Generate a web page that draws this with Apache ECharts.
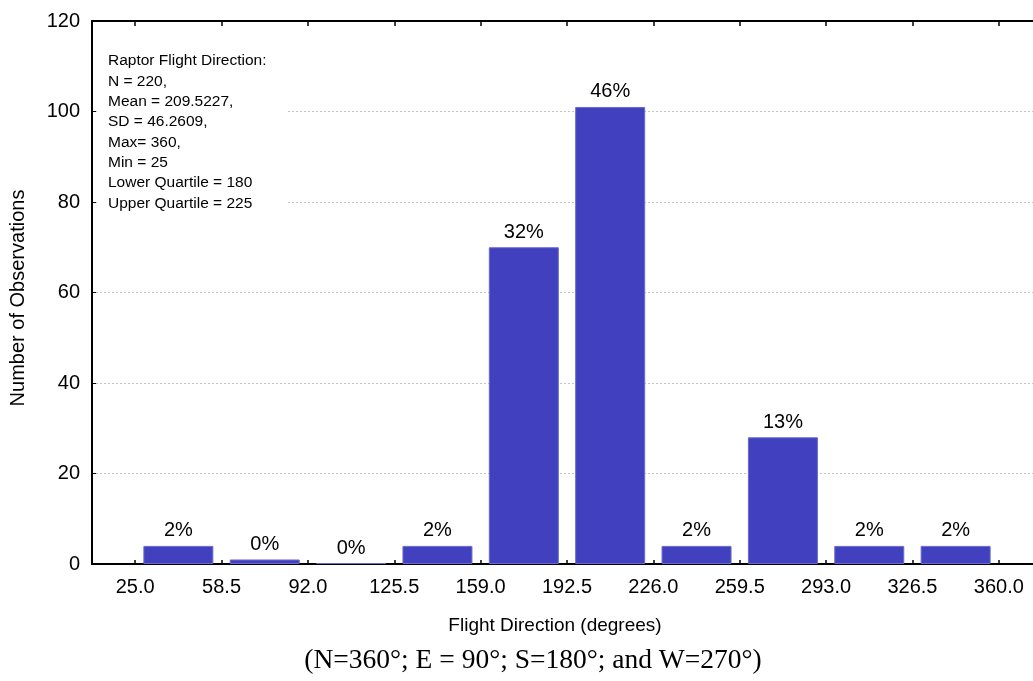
<!DOCTYPE html>
<html>
<head>
<meta charset="utf-8">
<script src="https://cdn.jsdelivr.net/npm/echarts@6/dist/echarts.min.js"></script>
<style>
  html, body { margin: 0; padding: 0; background: #fff; overflow: hidden; }
  /* the plot runs past the right edge of the page, so the chart box is wider than the window */
  #chart { width: 1042px; height: 681px; }
</style>
</head>
<body>
<div id="chart"></div>
<script>
// Histogram bin edges (degrees) and the number of observations in each bin
const binEdges = [25.0, 58.5, 92.0, 125.5, 159.0, 192.5, 226.0, 259.5, 293.0, 326.5, 360.0];
const counts = [4, 1, 0, 4, 70, 101, 4, 28, 4, 4];
const yTicks = [0, 20, 40, 60, 80, 100, 120];
const statsLines = [
  'Raptor Flight Direction:',
  'N = 220,',
  'Mean = 209.5227,',
  'SD = 46.2609,',
  'Max= 360,',
  'Min = 25',
  'Lower Quartile = 180',
  'Upper Quartile = 225'
];
const xTitle = 'Flight Direction (degrees)';
const xSubtitle = '(N=360\u00b0; E = 90\u00b0; S=180\u00b0; and W=270\u00b0)';
const yTitle = 'Number of Observations';

const total = counts.reduce((a, b) => a + b, 0);
const binWidth = binEdges[1] - binEdges[0];
const barData = counts.map((c, i) => [(binEdges[i] + binEdges[i + 1]) / 2, c]);

const font = 'Arial, "Liberation Sans", Helvetica, sans-serif';
const axisLine = { show: true, lineStyle: { color: '#000', width: 2 } };

const chart = echarts.init(document.getElementById('chart'), null, { renderer: 'canvas' });

chart.setOption({
  backgroundColor: '#fff',
  animation: false,
  grid: { left: 92, top: 21, bottom: 117, right: 0, containLabel: false },
  xAxis: [
    {
      type: 'value',
      position: 'bottom',
      min: binEdges[0] - binWidth / 2,
      max: binEdges[binEdges.length - 1] + binWidth / 2,
      axisLine: axisLine,
      axisTick: { show: true, inside: true, length: 4, customValues: binEdges,
                  lineStyle: { color: '#000', width: 1.5 } },
      axisLabel: { customValues: binEdges, formatter: v => v.toFixed(1),
                   fontSize: 20, fontFamily: font, color: '#000', margin: 13 },
      splitLine: { show: false }
    },
    {
      type: 'value',
      position: 'top',
      min: binEdges[0] - binWidth / 2,
      max: binEdges[binEdges.length - 1] + binWidth / 2,
      axisLine: axisLine,
      axisTick: { show: true, inside: true, length: 5, customValues: binEdges,
                  lineStyle: { color: '#000', width: 1.5 } },
      axisLabel: { show: false },
      splitLine: { show: false }
    }
  ],
  yAxis: {
    type: 'value',
    min: yTicks[0],
    max: yTicks[yTicks.length - 1],
    interval: yTicks[1] - yTicks[0],
    axisLine: axisLine,
    axisTick: { show: true, inside: true, length: 4, lineStyle: { color: '#000', width: 1 } },
    axisLabel: { fontSize: 20, fontFamily: font, color: '#000', margin: 12 },
    splitLine: { show: true, lineStyle: { color: '#c4c4c4', width: 1, type: [2, 2] } }
  },
  series: [{
    type: 'bar',
    xAxisIndex: 0,
    data: barData,
    barWidth: 70,
    barMinHeight: 1,
    itemStyle: { color: '#4141bf', borderColor: '#6a6acd', borderWidth: 1 },
    label: {
      show: true,
      position: 'top',
      distance: 5,
      fontSize: 20,
      fontFamily: font,
      color: '#000',
      formatter: p => Math.round(p.value[1] / total * 100) + '%'
    },
    z: 3
  }],
  graphic: [
    {
      type: 'rect',
      shape: { x: 97, y: 40, width: 190, height: 178 },
      style: { fill: '#fff' },
      z: 10
    },
    {
      type: 'text',
      x: 108, y: 51,
      style: {
        text: statsLines.join('\n'),
        fontSize: 15.5, lineHeight: 20.3, fontFamily: font, fill: '#000',
        textAlign: 'left', textVerticalAlign: 'top'
      },
      z: 11
    },
    {
      type: 'text',
      x: 555, y: 626,
      style: { text: xTitle, fontSize: 19, fontFamily: font, fill: '#000',
               textAlign: 'center', textVerticalAlign: 'middle' },
      z: 11
    },
    {
      type: 'text',
      x: 533, y: 661,
      style: { text: xSubtitle, fontSize: 27.5,
               fontFamily: '"Times New Roman", "Liberation Serif", serif', fill: '#000',
               textAlign: 'center', textVerticalAlign: 'middle' },
      z: 11
    },
    {
      type: 'text',
      x: 18, y: 298,
      rotation: Math.PI / 2,
      style: { text: yTitle, fontSize: 20, fontFamily: font, fill: '#000',
               textAlign: 'center', textVerticalAlign: 'middle' },
      z: 11
    }
  ]
});
</script>
</body>
</html>
